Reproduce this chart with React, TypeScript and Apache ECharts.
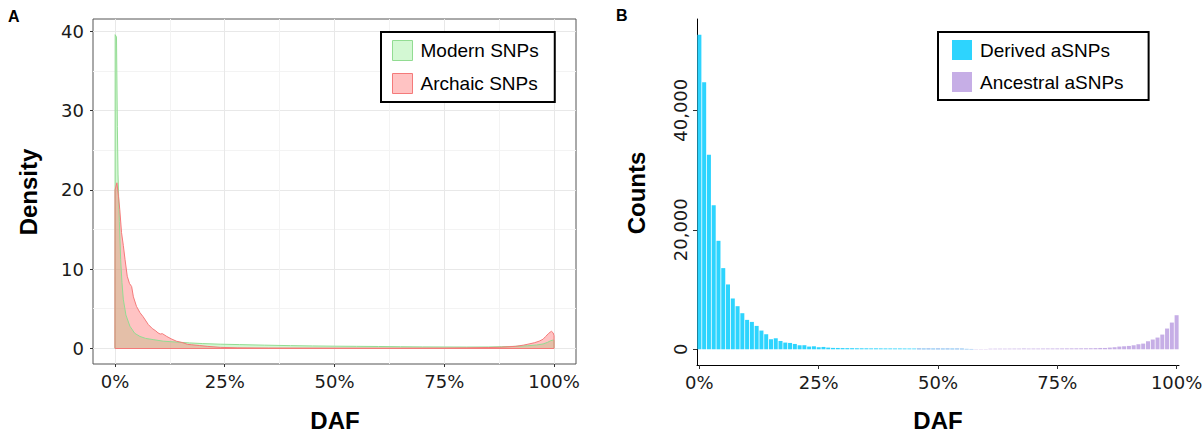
import React, { useEffect, useRef } from 'react';
import * as echarts from 'echarts';

// ---------- Panel A: density of DAF ----------
const densityTicks = [0, 10, 20, 30, 40];
const densityMinorTicks = [5, 15, 25, 35];
const dafTicks = [0, 25, 50, 75, 100];
const dafMinorTicks = [12.5, 37.5, 62.5, 87.5];

const modernDaf = [0.0, 0.05, 0.35, 0.55, 0.7, 1.0, 1.3, 1.6, 1.9, 2.5, 3.4, 4.5, 5.7, 7, 8.7, 11, 14.8, 17, 20, 24, 28.4, 34, 40, 45, 50, 55, 60, 65, 70, 75, 80, 85, 88, 91, 94, 96, 97.5, 98.5, 99.2, 99.8, 100, 100];
const modernDensity = [0, 39.6, 39.3, 28, 22, 16, 11.2, 8.3, 6.2, 4.2, 2.8, 1.9, 1.5, 1.25, 1.1, 0.9, 0.76, 0.68, 0.6, 0.52, 0.47, 0.4, 0.34, 0.3, 0.27, 0.25, 0.23, 0.2, 0.18, 0.17, 0.16, 0.17, 0.2, 0.25, 0.32, 0.42, 0.55, 0.75, 0.95, 1.05, 1.0, 0];

const archaicDaf = [0.0, 0.02, 0.45, 0.8, 1.1, 1.5, 1.9, 2.3, 2.8, 3.3, 3.8, 4.2, 4.9, 5.7, 6.4, 7.6, 8.5, 9.3, 9.8, 10.3, 10.8, 11.8, 12.8, 14, 15.5, 16.5, 17.5, 19.3, 21, 24, 28, 35, 50, 65, 75, 80, 85, 87.5, 91.3, 93, 94.3, 95.5, 96.6, 97.5, 98.1, 98.8, 99.4, 99.8, 100, 100];
const archaicDensity = [0, 20.0, 20.9, 19.2, 17.5, 14.6, 13.0, 11.2, 9.1, 8.2, 7.8, 6.5, 5.3, 4.5, 4.0, 3.0, 2.5, 2.2, 1.95, 1.8, 1.85, 1.5, 1.2, 0.9, 0.7, 0.5, 0.45, 0.35, 0.25, 0.12, 0.06, 0.04, 0.03, 0.03, 0.04, 0.06, 0.1, 0.13, 0.25, 0.4, 0.55, 0.7, 0.9, 1.15, 1.5, 1.9, 2.15, 1.95, 1.6, 0];

// ---------- Panel B: counts per DAF bin ----------
const binDaf = ['0','1','2','3','4','5','6','7','8','9','10','11','12','13','14','15','16','17','18','19','20','21','22','23','24','25','26','27','28','29','30','31','32','33','34','35','36','37','38','39','40','41','42','43','44','45','46','47','48','49','50','51','52','53','54','55','56','57','58','59','60','61','62','63','64','65','66','67','68','69','70','71','72','73','74','75','76','77','78','79','80','81','82','83','84','85','86','87','88','89','90','91','92','93','94','95','96','97','98','99','100'];
const derivedCounts = [
  52640, 44700, 32570, 24090, 18150, 13580, 10850, 8500, 7210, 6035,
  4920, 4580, 3910, 3130, 2515, 1680, 1840, 1390, 1120, 1060,
  890, 670, 680, 450, 500, 340, 390, 280, 230, 220,
  200, 190, 185, 170, 165, 160, 150, 155, 145, 140,
  140, 135, 138, 130, 128, 125, 126, 120, 122, 115,
  118, 110, 112, 110, 105, 100, 60, 50, 0, 0,
  0, 0, 0, 0, 0, 0, 0, 0, 0, 0,
  0, 0, 0, 0, 0, 0, 0, 0, 0, 0,
  0, 0, 0, 0, 0, 0, 0, 0, 0, 0,
  0, 0, 0, 0, 0, 0, 0, 0, 0, 0,
  0
];
const ancestralCounts = [
  0, 0, 0, 0, 0, 0, 0, 0, 0, 0,
  0, 0, 0, 0, 0, 0, 0, 0, 0, 0,
  0, 0, 0, 0, 0, 0, 0, 0, 0, 0,
  0, 0, 0, 0, 0, 0, 0, 0, 0, 0,
  0, 0, 0, 0, 0, 0, 130, 100, 128, 95,
  125, 100, 118, 90, 112, 95, 60, 55, 50, 45,
  50, 90, 95, 100, 100, 105, 110, 110, 115, 115,
  120, 120, 125, 130, 130, 135, 140, 145, 150, 155,
  160, 165, 175, 190, 220, 220, 280, 340, 450, 500,
  560, 670, 840, 950, 1340, 1630, 1960, 2460, 3470, 4470,
  5700
];
const countTicks = [0, 20000, 40000];

const modernLine = '#92DC92';
const modernFill = 'rgba(144,238,144,0.4)';
const archaicLine = '#F47A7A';
const archaicFill = 'rgba(255,105,105,0.4)';
const derivedColor = '#2DD4FE';
const ancestralColor = '#C6AEE6';

const tickFont = { fontFamily: 'DejaVu Sans', fontSize: 18, color: '#1a1a1a' };
const legendFont = { fontFamily: 'Liberation Sans, Arial', fontSize: 19, color: '#000' };
const titleFont = { fontFamily: 'Liberation Sans, Arial', fontSize: 24, fontWeight: 'bold', fill: '#000' };

export default function App() {
  const ref = useRef<HTMLDivElement>(null);
  useEffect(() => {
    if (!ref.current) return;
    const chart = echarts.init(ref.current, null, { renderer: 'svg' });
    const modernData = modernDaf.map((x, i) => [x, modernDensity[i]]);
    const archaicData = archaicDaf.map((x, i) => [x, archaicDensity[i]]);
    chart.setOption({
      animation: false,
      backgroundColor: '#fff',
      grid: [
        { left: 93, top: 19, width: 483, height: 345, show: true, borderColor: '#555', borderWidth: 1, backgroundColor: '#fff', outerBoundsMode: 'none', containLabel: false },
        { left: 697, top: 19, width: 482, height: 346, show: false, outerBoundsMode: 'none', containLabel: false },
      ],
      xAxis: [
        {
          gridIndex: 0, type: 'value', min: -5, max: 105,
          axisLine: { show: false, onZero: false },
          axisTick: { show: true, length: 3, lineStyle: { color: '#333' }, customValues: dafTicks },
          axisLabel: { ...tickFont, customValues: dafTicks, formatter: (v: number) => v + '%', margin: 8 },
          splitLine: { show: true, lineStyle: { color: '#E8E8E8', width: 1 } },
        },
        {
          gridIndex: 0, type: 'value', min: -5, max: 105,
          axisLine: { show: false, onZero: false },
          axisTick: { show: false, customValues: dafMinorTicks },
          axisLabel: { show: false, customValues: dafMinorTicks },
          splitLine: { show: true, lineStyle: { color: '#F3F3F3', width: 1 } },
        },
        {
          gridIndex: 1, type: 'category', data: binDaf, boundaryGap: true,
          axisLine: { show: true, onZero: false, lineStyle: { color: '#000', width: 1 } },
          axisTick: { show: true, interval: 24, alignWithLabel: true, length: 4, lineStyle: { color: '#333' } },
          axisLabel: { ...tickFont, interval: 24, formatter: (v: string) => v + '%', margin: 8 },
          splitLine: { show: false },
        },
      ],
      yAxis: [
        {
          gridIndex: 0, type: 'value', min: -1.98, max: 41.58,
          axisLine: { show: false, onZero: false },
          axisTick: { show: true, length: 3, lineStyle: { color: '#333' }, customValues: densityTicks },
          axisLabel: { ...tickFont, customValues: densityTicks, margin: 9 },
          splitLine: { show: true, lineStyle: { color: '#E8E8E8', width: 1 } },
        },
        {
          gridIndex: 0, type: 'value', min: -1.98, max: 41.58,
          axisLine: { show: false, onZero: false },
          axisTick: { show: false, customValues: densityMinorTicks },
          axisLabel: { show: false, customValues: densityMinorTicks },
          splitLine: { show: true, lineStyle: { color: '#F3F3F3', width: 1 } },
        },
        {
          gridIndex: 1, type: 'value', min: -2632, max: 55272,
          axisLine: { show: true, onZero: false, lineStyle: { color: '#000', width: 1 } },
          axisTick: { show: true, length: 4, lineStyle: { color: '#333' }, customValues: countTicks },
          axisLabel: { ...tickFont, customValues: countTicks, rotate: 90, margin: 8, formatter: (v: number) => v.toLocaleString('en-US') },
          splitLine: { show: false },
        },
      ],
      legend: [
        {
          data: [
            { name: 'Modern SNPs', icon: 'rect', itemStyle: { color: modernFill, borderColor: modernLine, borderWidth: 1 } },
            { name: 'Archaic SNPs', icon: 'rect', itemStyle: { color: archaicFill, borderColor: archaicLine, borderWidth: 1 } },
          ],
          orient: 'vertical', left: 381, top: 32,
          padding: [8, 16, 8, 11], itemWidth: 20, itemHeight: 20, itemGap: 12,
          borderColor: '#000', borderWidth: 2, backgroundColor: '#fff',
          textStyle: { ...legendFont, padding: [0, 0, 0, 3] },
          selectedMode: false,
        },
        {
          data: [
            { name: 'Derived aSNPs', icon: 'rect', itemStyle: { color: derivedColor } },
            { name: 'Ancestral aSNPs', icon: 'rect', itemStyle: { color: ancestralColor } },
          ],
          orient: 'vertical', left: 938, top: 32,
          padding: [8, 25, 8, 14], itemWidth: 20, itemHeight: 20, itemGap: 12,
          borderColor: '#000', borderWidth: 2, backgroundColor: '#fff',
          textStyle: { ...legendFont, padding: [0, 0, 0, 3] },
          selectedMode: false,
        },
      ],
      graphic: [
        { type: 'text', left: 8, top: 8, style: { text: 'A', fontFamily: 'Liberation Sans, Arial', fontSize: 16, fontWeight: 'bold', fill: '#000' } },
        { type: 'text', left: 616, top: 7, style: { text: 'B', fontFamily: 'Liberation Sans, Arial', fontSize: 16, fontWeight: 'bold', fill: '#000' } },
        { type: 'text', x: 28, y: 192, rotation: Math.PI / 2, style: { text: 'Density', ...titleFont, align: 'center', verticalAlign: 'middle' } },
        { type: 'text', x: 335, y: 420, style: { text: 'DAF', ...titleFont, align: 'center', verticalAlign: 'middle' } },
        { type: 'text', x: 636, y: 193, rotation: Math.PI / 2, style: { text: 'Counts', ...titleFont, align: 'center', verticalAlign: 'middle' } },
        { type: 'text', x: 938, y: 420, style: { text: 'DAF', ...titleFont, align: 'center', verticalAlign: 'middle' } },
      ],
      series: [
        {
          name: 'Modern SNPs', type: 'line', xAxisIndex: 0, yAxisIndex: 0, data: modernData,
          showSymbol: false, symbol: 'none', smooth: false,
          lineStyle: { color: modernLine, width: 1 }, itemStyle: { color: modernLine },
          areaStyle: { color: modernFill, opacity: 1 },
        },
        {
          name: 'Archaic SNPs', type: 'line', xAxisIndex: 0, yAxisIndex: 0, data: archaicData,
          showSymbol: false, symbol: 'none', smooth: false,
          lineStyle: { color: archaicLine, width: 1 }, itemStyle: { color: archaicLine },
          areaStyle: { color: archaicFill, opacity: 1 },
          markLine: {
            silent: true, symbol: ['none', 'none'], label: { show: false },
            lineStyle: { color: archaicLine, width: 1, type: 'solid' },
            data: [[{ coord: [0, 0] }, { coord: [100, 0] }]],
          },
        },
        {
          name: 'Derived aSNPs', type: 'bar', xAxisIndex: 2, yAxisIndex: 2, data: derivedCounts,
          barCategoryGap: '16%', barGap: '-100%', itemStyle: { color: derivedColor },
        },
        {
          name: 'Ancestral aSNPs', type: 'bar', xAxisIndex: 2, yAxisIndex: 2, data: ancestralCounts,
          barCategoryGap: '16%', barGap: '-100%', itemStyle: { color: ancestralColor },
        },
      ],
    });
    return () => chart.dispose();
  }, []);
  return <div ref={ref} style={{ position: 'absolute', left: 0, top: 0, width: 1203, height: 434 }} />;
}
